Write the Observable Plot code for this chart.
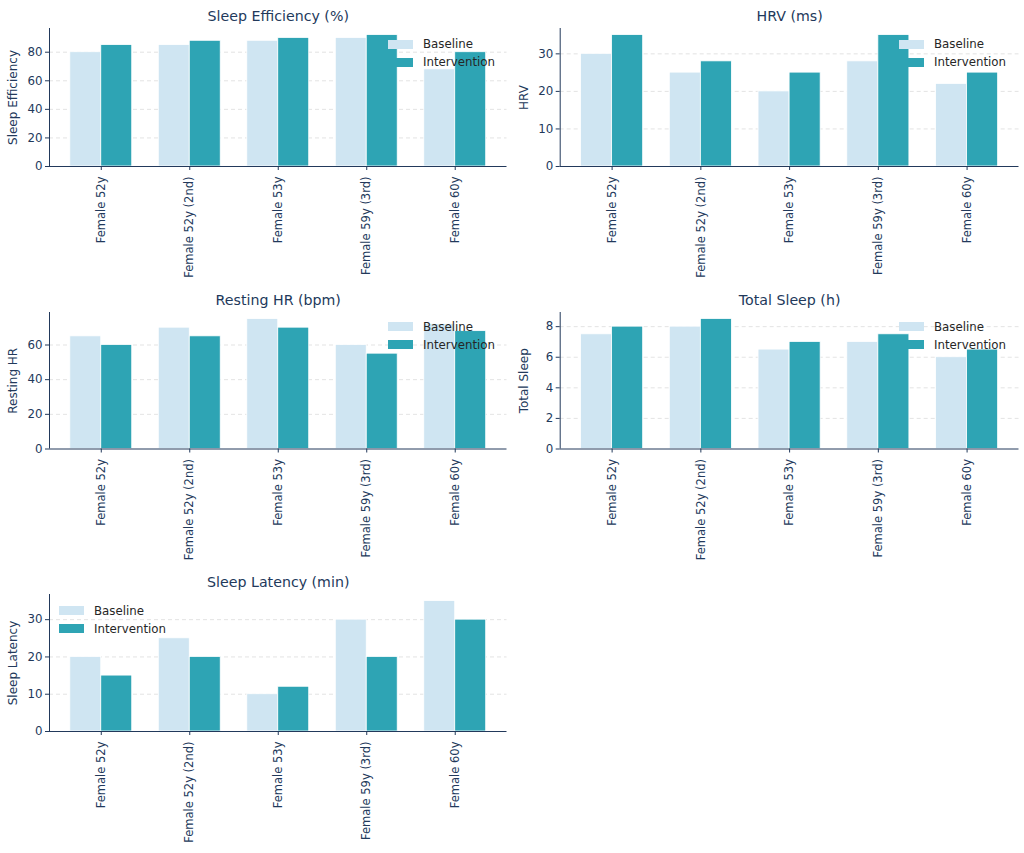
<!DOCTYPE html>
<html>
<head>
<meta charset="utf-8">
<script src="https://cdn.jsdelivr.net/npm/d3@7"></script>
<script src="https://cdn.jsdelivr.net/npm/@observablehq/plot@0.6"></script>
<style>
  html, body { margin: 0; padding: 0; background: #fff; }
  #root { position: relative; width: 1024px; height: 853px; background: #fff; font-family: "DejaVu Sans", sans-serif; }
  .panel { position: absolute; }
  .legend { position: absolute; font-family: "DejaVu Sans", sans-serif; font-size: 11.8px; color: #262626; }
  .legend .item { position: absolute; left: 0; white-space: nowrap; height: 18px; }
  .legend .sw { position: absolute; left: 0; width: 25px; height: 9px; }
  .legend .lb { position: absolute; left: 35px; line-height: 18px; top: -4.5px; }
</style>
</head>
<body>
<div id="root"></div>
<script>
const categories = ["Female 52y", "Female 52y (2nd)", "Female 53y", "Female 59y (3rd)", "Female 60y"];
const seriesNames = ["Baseline", "Intervention"];
const seriesColors = ["#cfe5f2", "#2ea4b4"];

const sleepEffBaseline = [80, 85, 88, 90, 68];
const sleepEffIntervention = [85, 88, 90, 92, 80];
const sleepEffTicks = [0, 20, 40, 60, 80];

const hrvBaseline = [30, 25, 20, 28, 22];
const hrvIntervention = [35, 28, 25, 35, 25];
const hrvTicks = [0, 10, 20, 30];

const restingHrBaseline = [65, 70, 75, 60, 72];
const restingHrIntervention = [60, 65, 70, 55, 68];
const restingHrTicks = [0, 20, 40, 60];

const totalSleepBaseline = [7.5, 8, 6.5, 7, 6];
const totalSleepIntervention = [8, 8.5, 7, 7.5, 6.5];
const totalSleepTicks = [0, 2, 4, 6, 8];

const latencyBaseline = [20, 25, 10, 30, 35];
const latencyIntervention = [15, 20, 12, 20, 30];
const latencyTicks = [0, 10, 20, 30];

const navy = "#22395b";
const barWidth = 0.35;

const panels = [
  {title: "Sleep Efficiency (%)", ylabel: "Sleep Efficiency", base: sleepEffBaseline, inter: sleepEffIntervention, ticks: sleepEffTicks,
   left: 0, top: 0, height: 280, ml: 49, mr: 5.5, mt: 28, mb: 114, legend: {left: 388, top: 39.5}},
  {title: "HRV (ms)", ylabel: "HRV", base: hrvBaseline, inter: hrvIntervention, ticks: hrvTicks,
   left: 512, top: 0, height: 280, ml: 47.7, mr: 5.5, mt: 28, mb: 114, legend: {left: 899, top: 39.5}},
  {title: "Resting HR (bpm)", ylabel: "Resting HR", base: restingHrBaseline, inter: restingHrIntervention, ticks: restingHrTicks,
   left: 0, top: 284, height: 280, ml: 49, mr: 5.5, mt: 28, mb: 115.5, legend: {left: 388, top: 322}},
  {title: "Total Sleep (h)", ylabel: "Total Sleep", base: totalSleepBaseline, inter: totalSleepIntervention, ticks: totalSleepTicks,
   left: 512, top: 284, height: 280, ml: 47.7, mr: 5.5, mt: 28, mb: 115.5, legend: {left: 899, top: 322}},
  {title: "Sleep Latency (min)", ylabel: "Sleep Latency", base: latencyBaseline, inter: latencyIntervention, ticks: latencyTicks,
   left: 0, top: 566, height: 287, ml: 49, mr: 5.5, mt: 28, mb: 122, legend: {left: 59, top: 606}}
];

const root = document.getElementById("root");
const n = categories.length;
const lo = -barWidth, hi = n - 1 + barWidth;
const pad = 0.05 * (hi - lo);
const xDomain = [lo - pad, hi + pad];

for (const p of panels) {
  const rows = [];
  categories.forEach((c, i) => {
    rows.push({i, category: c, series: seriesNames[0], value: p.base[i], x1: i - barWidth, x2: i});
    rows.push({i, category: c, series: seriesNames[1], value: p.inter[i], x1: i, x2: i + barWidth});
  });
  const yMax = d3.max(rows, d => d.value) * 1.05;
  const chart = Plot.plot({
    width: 512,
    height: p.height,
    marginLeft: p.ml, marginRight: p.mr, marginTop: p.mt, marginBottom: p.mb,
    style: {fontFamily: "DejaVu Sans, sans-serif", fontSize: "11.5px", color: navy, background: "#fff", overflow: "visible"},
    x: {type: "linear", domain: xDomain},
    y: {domain: [0, yMax]},
    color: {domain: seriesNames, range: seriesColors},
    marks: [
      Plot.ruleY(p.ticks.slice(1), {stroke: "#dcdcdc", strokeDasharray: "4,3", strokeWidth: 0.8}),
      Plot.rect(rows, {x1: "x1", x2: "x2", y1: () => 0, y2: "value", fill: "series", stroke: "white", strokeWidth: 0.8}),
      Plot.ruleY([0], {stroke: navy, strokeWidth: 1}),
      Plot.ruleX([xDomain[0]], {stroke: navy, strokeWidth: 1}),
      Plot.axisY({ticks: p.ticks, tickSize: 4, tickPadding: 3, label: null, fontSize: 11.8}),
      Plot.axisX({ticks: categories.map((_, i) => i), tickFormat: i => categories[i], tickRotate: -90, tickSize: 4, tickPadding: 6, label: null, fontSize: 11.5}),
      Plot.text([p.title], {frameAnchor: "top", dy: -12.5, lineAnchor: "middle", fontSize: 14.2, fill: navy}),
      Plot.text([p.ylabel], {frameAnchor: "left", dx: -36, rotate: -90, textAnchor: "middle", lineAnchor: "middle", fontSize: 12, fill: navy})
    ]
  });
  const wrap = document.createElement("div");
  wrap.className = "panel";
  wrap.style.left = p.left + "px";
  wrap.style.top = p.top + "px";
  wrap.appendChild(chart);
  root.appendChild(wrap);

  const lg = document.createElement("div");
  lg.className = "legend";
  lg.style.left = p.legend.left + "px";
  lg.style.top = p.legend.top + "px";
  seriesNames.forEach((s, k) => {
    const item = document.createElement("div");
    item.className = "item";
    item.style.top = (k * 18) + "px";
    const sw = document.createElement("span");
    sw.className = "sw";
    sw.style.background = seriesColors[k];
    const lb = document.createElement("span");
    lb.className = "lb";
    lb.textContent = s;
    item.appendChild(sw);
    item.appendChild(lb);
    lg.appendChild(item);
  });
  root.appendChild(lg);
}
</script>
</body>
</html>
